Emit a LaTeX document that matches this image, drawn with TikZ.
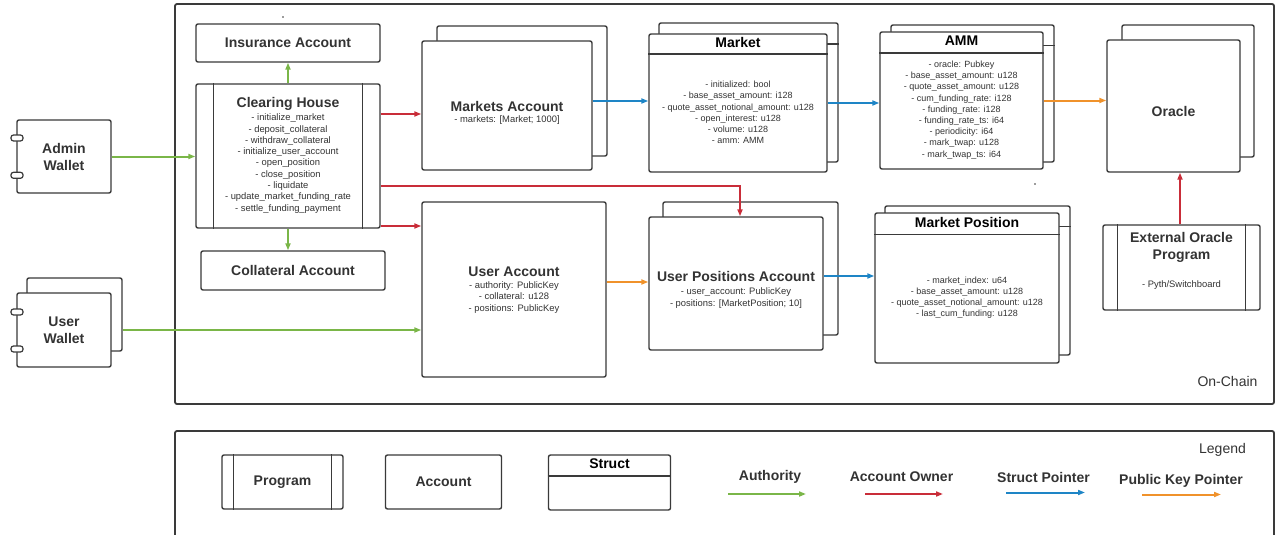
\documentclass[tikz,border=0pt]{standalone}
\usepackage{fontspec}
\setmainfont{Liberation Sans}
\usetikzlibrary{arrows.meta,calc}
\definecolor{edge}{HTML}{3A3A3A}
\definecolor{txt}{HTML}{333333}
\definecolor{authgreen}{HTML}{7AB648}
\definecolor{ownred}{HTML}{C92D39}
\definecolor{ptrblue}{HTML}{1E85C6}
\definecolor{keyorange}{HTML}{F0922B}
\begin{document}
\begin{tikzpicture}[x=1pt,y=-1pt,
  box/.style={draw=edge,line width=1.4pt,fill=white,rounded corners=2pt,inner sep=0pt},
  title/.style={font=\bfseries\fontsize{14}{17}\selectfont,text=txt,align=center,inner sep=0pt},
  stitle/.style={font=\bfseries\fontsize{14}{17}\selectfont,text=black,inner sep=0pt},
  body/.style={font=\fontsize{9}{11.2}\selectfont,text=txt,align=center,inner sep=0pt},
  bigbody/.style={body,font=\fontsize{9.4}{11.3}\selectfont},
  plain/.style={font=\fontsize{14}{17}\selectfont,text=txt,inner sep=0pt},
  bar/.style={draw=edge,line width=1.4pt},
  tab/.style={draw=edge,line width=1.2pt,fill=white,rounded corners=2.5pt},
  conn/.style={line width=2pt,-{Triangle[length=7pt,width=5pt]}},
  auth/.style={conn,draw=authgreen},
  own/.style={conn,draw=ownred},
  sptr/.style={conn,draw=ptrblue},
  kptr/.style={conn,draw=keyorange}]

\useasboundingbox (0,0) rectangle (1275,535);
\clip (0,0) rectangle (1275,535);
\fill[white] (0,0) rectangle (1275,535);

% frames
\draw[edge,line width=1.8pt,rounded corners=2pt] (175,4) rectangle (1274,404);
\draw[edge,line width=1.8pt,rounded corners=2pt] (175,431) rectangle (1274,560);
\node[plain] (onchain) at (1227.5,381.5) {On-Chain};
\node[plain] (legend) at (1222.5,450) {Legend};

% stray marks
\fill[edge] (283,17) circle (0.9);
\fill[edge] (1035,184) circle (0.9);

% wallets
\node[box,minimum width=94pt,minimum height=73pt,title,align=center] (aw) at (64,156.5) {Admin\\Wallet};
\draw[tab] (11,135) rectangle (23,141);
\draw[tab] (11,172.3) rectangle (23,178.3);

\node[box,minimum width=95pt,minimum height=73pt] (uwb) at (74.5,314.5) {};
\node[box,minimum width=94pt,minimum height=74pt,title,align=center] (uw) at (64,330) {User\\Wallet};
\draw[tab] (11,309) rectangle (23,315);
\draw[tab] (11,346) rectangle (23,352);

% clearing house program
\node[box,minimum width=184pt,minimum height=38pt,title] (ins) at (288,43) {Insurance Account};
\node[box,minimum width=184pt,minimum height=144pt] (ch) at (288,156) {};
\draw[bar] ([xshift=18pt]ch.north west) -- ([xshift=18pt]ch.south west);
\draw[bar] ([xshift=-18pt]ch.north east) -- ([xshift=-18pt]ch.south east);
\node[title] (chT) at (288,104) {Clearing House};
\node[bigbody] (chB) at (288,163.5) {- initialize\_market\\- deposit\_collateral\\- withdraw\_collateral\\- initialize\_user\_account\\- open\_position\\- close\_position\\- liquidate\\- update\_market\_funding\_rate\\- settle\_funding\_payment};
\node[box,minimum width=184pt,minimum height=39pt,title] (col) at (293,270.5) {Collateral Account};

% markets account
\node[box,minimum width=170pt,minimum height=130pt] (mab) at (522,91) {};
\node[box,minimum width=170pt,minimum height=129pt] (ma) at (507,105.5) {};
\node[title] (maT) at (507,106) {Markets Account};
\node[bigbody] (maB) at (507,120.5) {- markets: [Market; 1000]};

% market struct
\node[box,minimum width=179pt,minimum height=139pt] (mkb) at (748.5,92.5) {};
\draw[bar] (mkb.west |- 0,44) -- (mkb.east |- 0,44);
\node[box,minimum width=178pt,minimum height=138pt] (mk) at (738,103) {};
\draw[bar] (mk.west |- 0,54) -- (mk.east |- 0,54);
\node[stitle] (mkT) at (738,42.5) {Market};
\node[body] (mkB) at (738,112.5) {- initialized: bool\\- base\_asset\_amount: i128\\- quote\_asset\_notional\_amount: u128\\- open\_interest: u128\\- volume: u128\\- amm: AMM};

% amm struct
\node[box,minimum width=163pt,minimum height=137pt] (ammb) at (972.5,93.5) {};
\draw[bar] (ammb.west |- 0,45.5) -- (ammb.east |- 0,45.5);
\node[box,minimum width=163pt,minimum height=137pt] (amm) at (961.5,100.5) {};
\draw[bar] (amm.west |- 0,53) -- (amm.east |- 0,53);
\node[stitle] (ammT) at (961.5,40.5) {AMM};
\node[body] (ammB) at (961.5,110) {- oracle: Pubkey\\- base\_asset\_amount: u128\\- quote\_asset\_amount: u128\\- cum\_funding\_rate: i128\\- funding\_rate: i128\\- funding\_rate\_ts: i64\\- periodicity: i64\\- mark\_twap: u128\\- mark\_twap\_ts: i64};

% oracle
\node[box,minimum width=132pt,minimum height=132pt] (orb) at (1188,91) {};
\node[box,minimum width=133pt,minimum height=132pt] (orf) at (1173.5,106) {};
\node[title] (orT) at (1173.5,111) {Oracle};

% user account
\node[box,minimum width=184pt,minimum height=175pt] (ua) at (514,289.5) {};
\node[title] (uaT) at (514,271.5) {User Account};
\node[bigbody] (uaB) at (514,297.3) {- authority: PublicKey\\- collateral: u128\\- positions: PublicKey};

% user positions account
\node[box,minimum width=175pt,minimum height=133pt] (upab) at (750.5,268.5) {};
\node[box,minimum width=174pt,minimum height=133pt] (upa) at (736,283.5) {};
\node[title] (upaT) at (736,276.7) {User Positions Account};
\node[bigbody] (upaB) at (736,298) {- user\_account: PublicKey\\- positions: [MarketPosition; 10]};

% market position struct
\node[box,minimum width=185pt,minimum height=149pt] (mpb) at (977.5,280.5) {};
\draw[bar] (mpb.west |- 0,226.5) -- (mpb.east |- 0,226.5);
\node[box,minimum width=184pt,minimum height=150pt] (mp) at (967,288) {};
\draw[bar] (mp.west |- 0,234.5) -- (mp.east |- 0,234.5);
\node[stitle] (mpT) at (967,222.5) {Market Position};
\node[body] (mpB) at (967,297.7) {- market\_index: u64\\- base\_asset\_amount: u128\\- quote\_asset\_notional\_amount: u128\\- last\_cum\_funding: u128};

% external oracle program
\node[box,minimum width=157pt,minimum height=85pt] (ext) at (1181.5,267.5) {};
\draw[bar] ([xshift=15pt]ext.north west) -- ([xshift=15pt]ext.south west);
\draw[bar] ([xshift=-15pt]ext.north east) -- ([xshift=-15pt]ext.south east);
\node[title] (extT) at (1181.5,247) {External Oracle\\Program};
\node[bigbody] (extB) at (1181.5,285.5) {- Pyth/Switchboard};

% connectors
\coordinate (bend) at (740,186);
\coordinate (ext-x) at (1180,0);
\draw[auth] (aw.east) -- (aw.east -| ch.west);
\draw[auth] (uwb.east |- uw.east) -- (ua.west |- uw.east);
\draw[auth] (ch.north) -- (ins.south);
\draw[auth] (ch.south) -- (ch.south |- col.north);
\draw[own] (ch.east |- 0,114) -- (ma.west |- 0,114);
\draw[own] (ch.east |- 0,226) -- (ua.west |- 0,226);
\draw[own] (ch.east |- bend) -| (upa.north -| bend);
\draw[own] (ext.north -| ext-x) -- (orf.south -| ext-x);
\draw[sptr] (ma.east |- 0,101) -- (mk.west |- 0,101);
\draw[sptr] (mk.east) -- (amm.west |- mk.east);
\draw[kptr] (amm.east) -- (orf.west |- amm.east);
\draw[kptr] (ua.east |- 0,282) -- (upa.west |- 0,282);
\draw[sptr] (upa.east |- 0,276) -- (mp.west |- 0,276);

% legend shapes
\node[box,minimum width=121pt,minimum height=54pt,title] (lgProg) at (282.5,482) {Program};
\draw[bar] ([xshift=12pt]lgProg.north west) -- ([xshift=12pt]lgProg.south west);
\draw[bar] ([xshift=-12pt]lgProg.north east) -- ([xshift=-12pt]lgProg.south east);
\node[box,minimum width=116pt,minimum height=54pt,title] (lgAcct) at (443.5,482) {Account};
\node[box,minimum width=122pt,minimum height=55pt] (lgStruct) at (609.5,482.5) {};
\draw[bar] (lgStruct.west |- 0,476) -- (lgStruct.east |- 0,476);
\node[stitle] (lgStructT) at (609.5,464) {Struct};

% legend arrows
\node[title] (lgAuth) at (770,477) {Authority};
\coordinate (a1) at (728,494);
\coordinate (a2) at (806,494);
\draw[auth] (a1) -- (a2);
\node[title] (lgOwn) at (901.5,477) {Account Owner};
\coordinate (b1) at (865,494);
\coordinate (b2) at (943,494);
\draw[own] (b1) -- (b2);
\node[title] (lgSp) at (1043.5,477) {Struct Pointer};
\coordinate (c1) at (1006,492.5);
\coordinate (c2) at (1085,492.5);
\draw[sptr] (c1) -- (c2);
\node[title] (lgKp) at (1181,481) {Public Key Pointer};
\coordinate (d1) at (1142,494.5);
\coordinate (d2) at (1221,494.5);
\draw[kptr] (d1) -- (d2);
\end{tikzpicture}
\end{document}
